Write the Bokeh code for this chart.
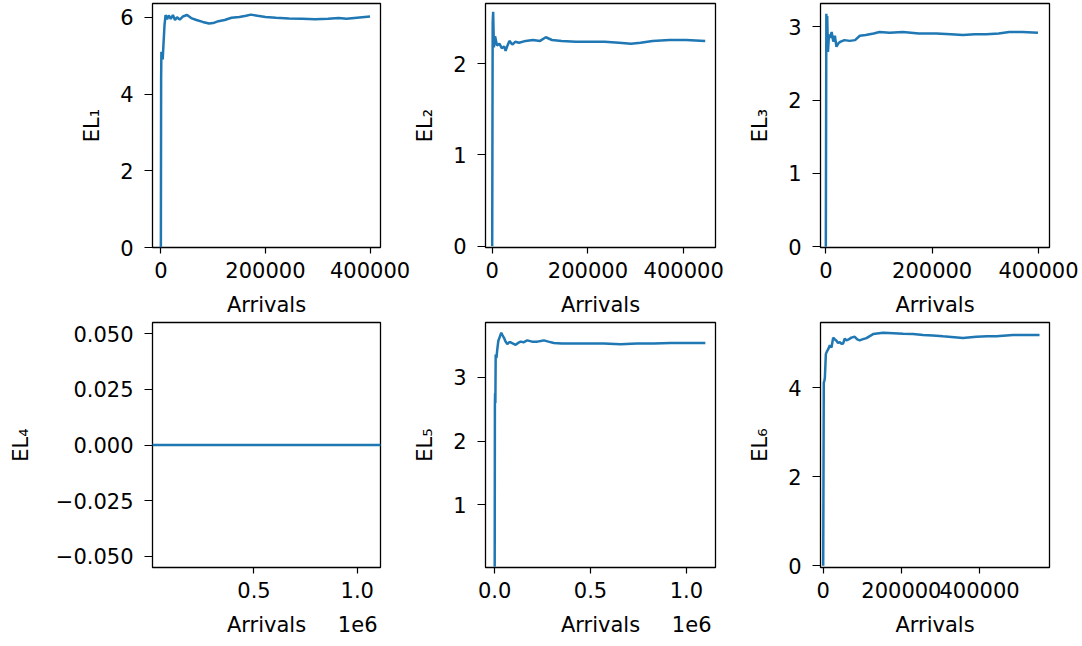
from bokeh.plotting import figure
from bokeh.layouts import column, row
from bokeh.models import FixedTicker, Range1d, Label
from bokeh.embed import file_html
from bokeh.resources import INLINE

# ---------------- data ----------------
x1 = [0, 500, 1000, 2000, 3500, 5000, 7000, 9000, 12000, 15000,
      19000, 23000, 27000, 31000, 36000, 42000, 50000, 58000, 68000, 80000,
      92000, 100000, 110000, 122000, 135000, 150000, 163000, 172000, 185000, 200000,
      220000, 245000, 270000, 295000, 320000, 340000, 355000, 370000, 385000, 400000]
y1 = [0.0, 4.4, 5.1, 5.05, 4.9, 5.3, 5.8, 6.06, 5.95, 6.05,
      5.96, 6.06, 5.93, 6.0, 5.94, 6.02, 6.06, 5.98, 5.93, 5.88,
      5.84, 5.85, 5.9, 5.93, 5.99, 6.01, 6.04, 6.07, 6.04, 6.01,
      5.99, 5.97, 5.96, 5.95, 5.96, 5.98, 5.96, 5.98, 6.0, 6.02]

x2 = [0, 1000, 2000, 3500, 6000, 10000, 15000, 20000, 25000, 28000,
      32000, 36000, 42000, 48000, 56000, 70000, 85000, 100000, 112000, 125000,
      145000, 175000, 200000, 235000, 265000, 290000, 310000, 335000, 370000, 405000,
      445000]
y2 = [0.0, 2.45, 2.57, 2.18, 2.3, 2.2, 2.22, 2.17, 2.19, 2.14,
      2.2, 2.25, 2.21, 2.24, 2.23, 2.25, 2.26, 2.25, 2.29, 2.26,
      2.25, 2.24, 2.24, 2.24, 2.23, 2.22, 2.23, 2.25, 2.26, 2.26,
      2.25]

x3 = [0, 1000, 1800, 2600, 4000, 6000, 8000, 11000, 14000, 17000,
      20000, 24000, 28000, 35000, 45000, 55000, 64000, 75000, 90000, 101000,
      120000, 145000, 175000, 208000, 235000, 258000, 280000, 302000, 325000, 345000,
      370000, 399000]
y3 = [0.0, 3.18, 2.7, 3.15, 2.66, 2.9, 2.85, 2.93, 2.8, 2.88,
      2.73, 2.78, 2.8, 2.82, 2.81, 2.82, 2.88, 2.89, 2.91, 2.93,
      2.92, 2.93, 2.91, 2.91, 2.9, 2.89, 2.9, 2.9, 2.91, 2.93,
      2.93, 2.92]

x4 = [0, 1120000]
y4 = [0.0, 0.0]

x5 = [0, 1000, 2000, 3500, 5200, 9000, 13500, 18800, 26000, 34400,
      41000, 48400, 57000, 65600, 75000, 83300, 96000, 109400, 122000, 135400,
      150000, 169800, 195000, 221900, 240000, 256800, 280000, 308900, 350000, 395800,
      480000, 569300, 656300, 742700, 830000, 916700, 1000000, 1099000]
y5 = [0.03, 2.55, 2.75, 2.6, 3.36, 3.3, 3.44, 3.57, 3.63, 3.7,
      3.66, 3.62, 3.56, 3.52, 3.55, 3.55, 3.53, 3.51, 3.54, 3.56,
      3.55, 3.58, 3.56, 3.56, 3.57, 3.58, 3.56, 3.54, 3.53, 3.53,
      3.53, 3.53, 3.52, 3.53, 3.53, 3.54, 3.54, 3.54]

x6 = [0, 1500, 3000, 4300, 6800, 9000, 12800, 17000, 21200, 25500,
      30000, 34000, 38000, 42500, 47000, 51100, 55000, 59500, 65000, 72000,
      80700, 87000, 93500, 100000, 110600, 127700, 153300, 180000, 204300, 230000,
      255400, 280000, 306500, 335000, 357600, 391600, 420000, 442700, 485300, 520000,
      553300]
y6 = [0.0, 4.11, 4.15, 4.22, 4.75, 4.8, 4.86, 4.95, 4.9, 5.12,
      5.08, 5.05, 5.0, 5.02, 4.98, 4.99, 5.1, 5.06, 5.08, 5.12,
      5.14, 5.08, 5.06, 5.08, 5.11, 5.2, 5.23, 5.22, 5.21, 5.2,
      5.18, 5.17, 5.15, 5.13, 5.11, 5.14, 5.15, 5.15, 5.18, 5.18,
      5.18]

y_labels = ["EL\u2081", "EL\u2082", "EL\u2083", "EL\u2084", "EL\u2085", "EL\u2086"]
x_label = "Arrivals"

xt_int = [0, 200000, 400000]
xt_int_lab = ["0", "200000", "400000"]
xt4 = [500000, 1000000]
xt4_lab = ["0.5", "1.0"]
xt5 = [0, 500000, 1000000]
xt5_lab = ["0.0", "0.5", "1.0"]

yt1 = [0, 2, 4, 6]
yt2 = [0, 1, 2]
yt3 = [0, 1, 2, 3]
yt4 = [-0.05, -0.025, 0.0, 0.025, 0.05]
yt4_lab = ["\u22120.050", "\u22120.025", "0.000", "0.025", "0.050"]
yt5 = [1, 2, 3]
yt6 = [0, 2, 4]

# axis limits
xr1 = (-16000, 420000); yr1 = (0.0, 6.36)
xr2 = (-14000, 466500); yr2 = (-0.015, 2.66)
xr3 = (-10000, 420700); yr3 = (-0.01, 3.32)
xr4 = (8700, 1112700); yr4 = (-0.055, 0.055)
xr5 = (-48000, 1152000); yr5 = (0.02, 3.86)
xr6 = (-6900, 578800); yr6 = (-0.04, 5.46)

# ---------------- styling ----------------
FONT = "DejaVu Sans"
FS = "21px"
BLUE = "#1f77b4"

COLS = [dict(left=152, right=30, fw=228),
        dict(left=72, right=30, fw=230),
        dict(left=72, right=35, fw=229)]
ROWS = [dict(top=3, bottom=73, fh=244),
        dict(top=2, bottom=76, fh=245)]


def panel(x, y, xr, yr, xt, xlab, yt, ylab, ylabel, c, r, offset=None, off_dx=0,
          ylab_standoff=13):
    cc = COLS[c]
    rr = ROWS[r]
    p = figure(frame_width=cc["fw"], frame_height=rr["fh"],
               x_range=Range1d(*xr), y_range=Range1d(*yr),
               output_backend="svg", toolbar_location=None,
               min_border_left=cc["left"], min_border_right=cc["right"],
               min_border_top=rr["top"], min_border_bottom=rr["bottom"])
    p.line(x, y, line_color=BLUE, line_width=2.5)
    p.grid.visible = False
    p.background_fill_color = "white"
    p.border_fill_color = "white"
    p.outline_line_color = "black"
    p.outline_line_width = 1.3
    p.outline_line_alpha = 1.0
    for ax in (p.xaxis[0], p.yaxis[0]):
        ax.axis_line_color = None
        ax.major_tick_line_color = "black"
        ax.major_tick_line_width = 1.2
        ax.minor_tick_line_color = None
        ax.major_tick_in = 0
        ax.major_label_text_font = FONT
        ax.major_label_text_font_size = FS
        ax.major_label_text_color = "black"
        ax.axis_label_text_font = FONT
        ax.axis_label_text_font_size = FS
        ax.axis_label_text_font_style = "normal"
        ax.axis_label_text_color = "black"
    xa = p.xaxis[0]
    xa.ticker = FixedTicker(ticks=xt, minor_ticks=[])
    xa.major_label_overrides = {t: l for t, l in zip(xt, xlab)}
    xa.major_tick_out = 6
    xa.major_label_standoff = 8
    xa.axis_label = x_label
    xa.axis_label_standoff = 12
    ya = p.yaxis[0]
    ya.ticker = FixedTicker(ticks=yt, minor_ticks=[])
    if ylab is not None:
        ya.major_label_overrides = {t: l for t, l in zip(yt, ylab)}
    ya.major_tick_out = 8
    ya.major_label_standoff = 11
    ya.axis_label = ylabel
    ya.axis_label_standoff = ylab_standoff
    if offset is not None:
        # scientific offset text below the x axis, at the right end
        p.add_layout(Label(x=xr[1], y=yr[0], x_units="data", y_units="data",
                           text=offset, text_align="right", text_baseline="middle",
                           x_offset=off_dx, y_offset=-56, text_font=FONT,
                           text_font_size=FS, text_color="black"), "below")
    return p


p1 = panel(x1, y1, xr1, yr1, xt_int, xt_int_lab, yt1, None, y_labels[0], 0, 0)
p2 = panel(x2, y2, xr2, yr2, xt_int, xt_int_lab, yt2, None, y_labels[1], 1, 0)
p3 = panel(x3, y3, xr3, yr3, xt_int, xt_int_lab, yt3, None, y_labels[2], 2, 0)
p4 = panel(x4, y4, xr4, yr4, xt4, xt4_lab, yt4, yt4_lab, y_labels[3], 0, 1,
           offset="1e6", off_dx=-3, ylab_standoff=20)
p5 = panel(x5, y5, xr5, yr5, xt5, xt5_lab, yt5, None, y_labels[4], 1, 1,
           offset="1e6", off_dx=-4)
p6 = panel(x6, y6, xr6, yr6, xt_int, xt_int_lab, yt6, None, y_labels[5], 2, 1)

layout = column(row(p1, p2, p3), row(p4, p5, p6))

open("out.html", "w").write(file_html(layout, INLINE))
